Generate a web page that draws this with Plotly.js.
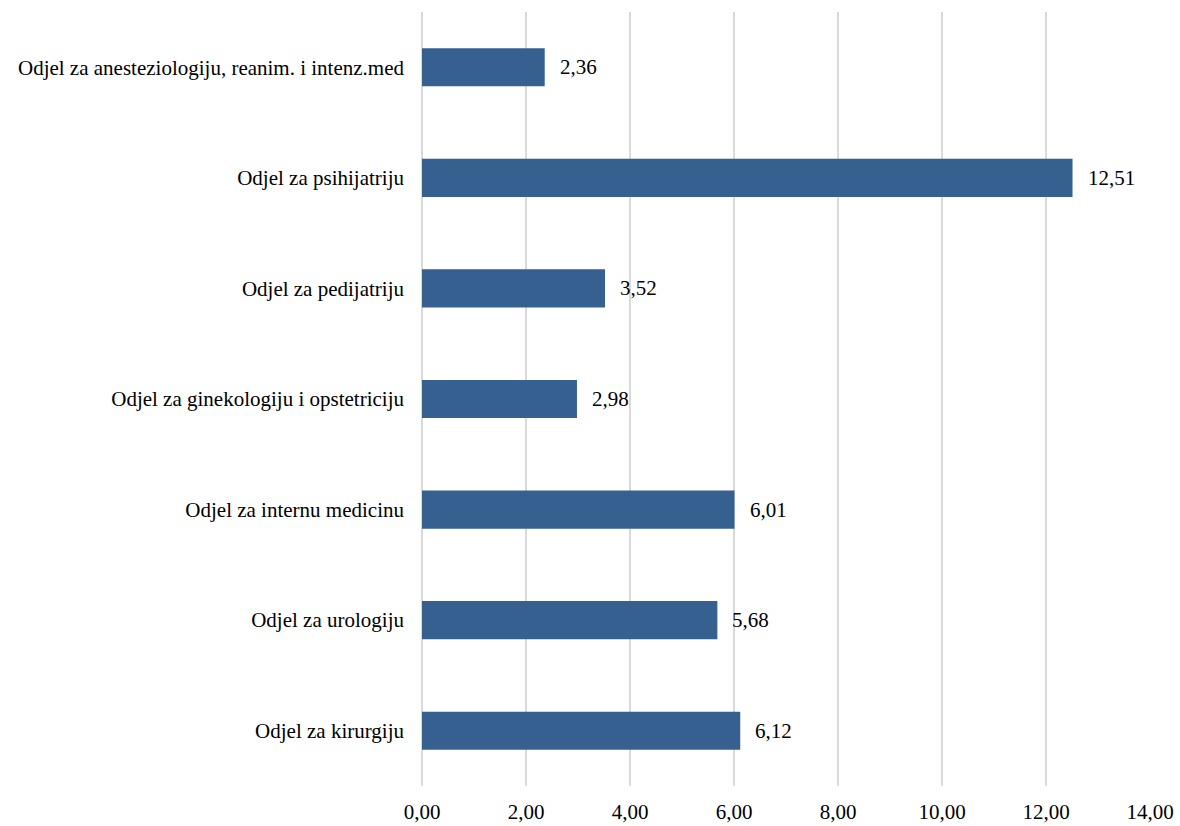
<!DOCTYPE html>
<html>
<head>
<meta charset="utf-8">
<script src="https://cdn.plot.ly/plotly-3.0.1.min.js"></script>
<style>html,body{margin:0;padding:0;background:#fff;}#chart{width:1180px;height:826px;}</style>
</head>
<body>
<div id="chart"></div>
<script>
const categories = [
  "Odjel za anesteziologiju, reanim. i intenz.med",
  "Odjel za psihijatriju",
  "Odjel za pedijatriju",
  "Odjel za ginekologiju i opstetriciju",
  "Odjel za internu medicinu",
  "Odjel za urologiju",
  "Odjel za kirurgiju"
];
const values = [2.36, 12.51, 3.52, 2.98, 6.01, 5.68, 6.12];
const tickVals = [0, 2, 4, 6, 8, 10, 12, 14];
const tickLabels = ["0,00", "2,00", "4,00", "6,00", "8,00", "10,00", "12,00", "14,00"];

const font = {family: "Liberation Serif, Times New Roman, serif", size: 21, color: "#000"};
const fmt = v => v.toFixed(2).replace(".", ",");

const trace = {
  type: "bar",
  orientation: "h",
  x: values,
  y: categories,
  width: 0.345,
  marker: {color: "#36608F"},
  hoverinfo: "none"
};

const annotations = values.map((v, i) => ({
  x: v, y: categories[i], xref: "x", yref: "y",
  text: fmt(v), showarrow: false, xanchor: "left", yanchor: "middle",
  xshift: 13, font: font
}));

const layout = {
  width: 1180, height: 826,
  margin: {l: 422, r: 30, t: 12, b: 40},
  paper_bgcolor: "#fff", plot_bgcolor: "#fff",
  font: font,
  showlegend: false,
  xaxis: {
    range: [0, 14], tickvals: tickVals, ticktext: tickLabels,
    showgrid: true, gridcolor: "#d9d9d9", gridwidth: 2,
    zeroline: true, zerolinecolor: "#d9d9d9", zerolinewidth: 2,
    showline: false, ticks: "", tickfont: font,
    ticklabelstandoff: 11, fixedrange: true
  },
  yaxis: {
    type: "category", categoryorder: "array", categoryarray: categories,
    autorange: "reversed", showgrid: false, zeroline: false, showline: false,
    ticks: "", tickfont: font, ticklabelstandoff: 17, fixedrange: true
  },
  annotations: annotations
};

Plotly.newPlot("chart", [trace], layout, {displayModeBar: false, staticPlot: true});
</script>
</body>
</html>
